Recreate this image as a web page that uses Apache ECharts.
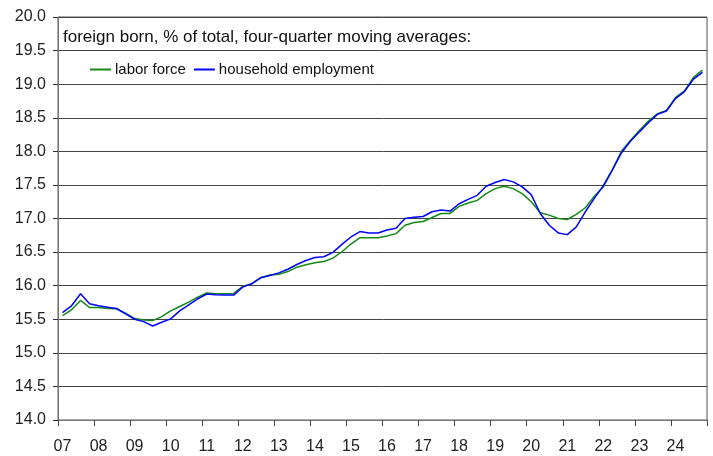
<!DOCTYPE html>
<html>
<head>
<meta charset="utf-8">
<script src="https://cdn.jsdelivr.net/npm/echarts@6/dist/echarts.min.js"></script>
<style>
  html, body { margin: 0; padding: 0; background: #fff; }
  #chart { width: 713px; height: 456px; }
</style>
</head>
<body>
<div id="chart"></div>
<script>
// year labels, one category per quarter (2007Q1 .. 2024Q4)
const years = ['07', '08', '09', '10', '11', '12', '13', '14', '15',
    '16', '17', '18', '19', '20', '21', '22', '23', '24'];
const quarters = [];
for (let y of years) {
    for (let q = 1; q <= 4; q++) {
        quarters.push(q === 1 ? y : y + 'Q' + q);
    }
}

// foreign born share of labor force, four-quarter moving average
const laborForce = [
    15.555, 15.64, 15.78, 15.675, 15.675, 15.66, 15.655, 15.59,
    15.51, 15.49, 15.48, 15.54, 15.625, 15.69, 15.755, 15.83,
    15.89, 15.88, 15.88, 15.885, 15.99, 16.025, 16.115, 16.16,
    16.17, 16.21, 16.275, 16.31, 16.34, 16.36, 16.41, 16.505,
    16.62, 16.715, 16.715, 16.715, 16.74, 16.775, 16.90, 16.94,
    16.955, 17.015, 17.075, 17.075, 17.18, 17.23, 17.27, 17.37,
    17.445, 17.48, 17.445, 17.37, 17.25, 17.085, 17.05, 17.0,
    16.985, 17.06, 17.16, 17.33, 17.47, 17.725, 18.00, 18.16,
    18.31, 18.45, 18.56, 18.61, 18.80, 18.90, 19.10, 19.21
];

// foreign born share of household employment
const householdEmployment = [
    15.60, 15.70, 15.88, 15.73, 15.70, 15.68, 15.66, 15.58,
    15.50, 15.465, 15.40, 15.455, 15.505, 15.625, 15.715, 15.805,
    15.875, 15.865, 15.86, 15.86, 15.98, 16.03, 16.12, 16.15,
    16.19, 16.245, 16.315, 16.375, 16.42, 16.43, 16.495, 16.615,
    16.725, 16.805, 16.785, 16.785, 16.83, 16.855, 17.00, 17.02,
    17.03, 17.10, 17.125, 17.11, 17.22, 17.285, 17.345, 17.48,
    17.535, 17.58, 17.545, 17.47, 17.355, 17.075, 16.90, 16.785,
    16.76, 16.875, 17.10, 17.30, 17.49, 17.725, 17.975, 18.15,
    18.29, 18.425, 18.55, 18.60, 18.785, 18.89, 19.075, 19.175
];

const chartDom = document.getElementById('chart');
let myChart = echarts.init(chartDom);
let option;
const font = '"Liberation Sans", Arial, sans-serif';

option = {
    animation: false,
    color: ['#138a13', '#0000ff'],
    textStyle: { fontFamily: font },
    title: {
        text: 'foreign born, % of total, four-quarter moving averages:',
        left: 63,
        top: 29,
        padding: 0,
        textStyle: {
            fontFamily: font,
            fontSize: 17,
            fontWeight: 'normal',
            color: '#111'
        }
    },
    legend: {
        left: 90,
        top: 62,
        padding: 0,
        itemGap: 8,
        itemWidth: 21,
        itemHeight: 2,
        icon: 'rect',
        textStyle: { fontFamily: font, fontSize: 15, color: '#111', padding: [0, 0, 0, -1] },
        data: ['labor force', 'household employment']
    },
    grid: {
        left: 58,
        right: 6,
        top: 17,
        bottom: 36,
        show: true,
        borderColor: '#555',
        borderWidth: 1
    },
    xAxis: {
        type: 'category',
        boundaryGap: true,
        data: quarters,
        axisLine: { show: true, lineStyle: { color: '#777' } },
        axisTick: {
            show: true,
            inside: false,
            alignWithLabel: false,
            interval: 3,
            length: 6,
            lineStyle: { color: '#444', width: 1 }
        },
        axisLabel: {
            interval: 3,
            margin: 19,
            fontSize: 16,
            color: '#222',
            fontFamily: font,
            formatter: function (v) {
                return v.slice(0, 2);
            }
        },
        splitLine: { show: false }
    },
    yAxis: {
        type: 'value',
        min: 14,
        max: 20,
        interval: 0.5,
        axisLine: { show: true, lineStyle: { color: '#777' } },
        axisTick: { show: true, inside: false, length: 5, lineStyle: { color: '#333', width: 1 } },
        axisLabel: {
            margin: 12,
            fontSize: 16,
            color: '#222',
            fontFamily: font,
            formatter: function (v) {
                return v.toFixed(1);
            }
        },
        splitLine: { lineStyle: { color: '#444', width: 1 } }
    },
    series: [
        {
            name: 'labor force',
            type: 'line',
            showSymbol: false,
            lineStyle: { width: 1.5 },
            data: laborForce
        },
        {
            name: 'household employment',
            type: 'line',
            showSymbol: false,
            lineStyle: { width: 1.5 },
            data: householdEmployment
        }
    ]
};

option && myChart.setOption(option);
</script>
</body>
</html>
